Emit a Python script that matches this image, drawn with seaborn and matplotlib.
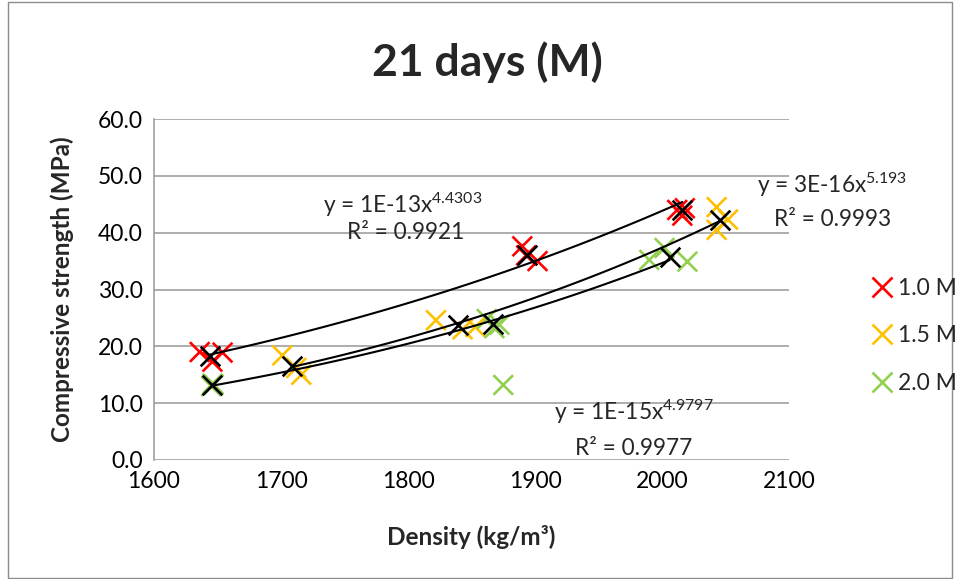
import numpy as np
import pandas as pd
import matplotlib
matplotlib.use("Agg")
import matplotlib.pyplot as plt
import seaborn as sns
from matplotlib.patches import Rectangle
from matplotlib.lines import Line2D

# ---- data ----
red_x = [1636, 1646, 1654, 1890, 1893, 1902, 2012, 2016, 2018]
red_y = [19.0, 17.3, 18.9, 37.6, 36.0, 35.0, 44.0, 43.0, 44.3]
orange_x = [1701, 1712, 1716, 1822, 1843, 1853, 2043, 2052, 2043]
orange_y = [18.4, 16.2, 15.0, 24.6, 23.0, 23.4, 44.5, 42.3, 40.5]
green_x = [1645, 1647, 1646, 1862, 1868, 1872, 1875, 1990, 2002, 2020]
green_y = [13.0, 13.3, 13.4, 24.8, 23.2, 23.8, 13.2, 35.2, 37.3, 34.9]

avg_red_x = [1644, 1894, 2016]
avg_red_y = [18.3, 36.1, 44.0]
avg_orange_x = [1709, 1839, 2046]
avg_orange_y = [16.5, 23.8, 42.3]
avg_green_x = [1646, 1867, 2006]
avg_green_y = [13.2, 24.0, 35.7]

series_labels = ["1.0 M", "1.5 M", "2.0 M"]
colors = ["#FF0000", "#FFC000", "#92D050"]
eq_texts = [r"y = 1E-13x$^{4.4303}$", r"y = 3E-16x$^{5.193}$", r"y = 1E-15x$^{4.9797}$"]
r2_texts = ["R² = 0.9921", "R² = 0.9993", "R² = 0.9977"]

sns.set_theme(style="white")
plt.rcParams['font.family'] = ['Lato', 'DejaVu Sans']
plt.rcParams['mathtext.fontset'] = 'custom'
plt.rcParams['mathtext.rm'] = 'Lato'
plt.rcParams['mathtext.it'] = 'Lato'

TICK = 16.5
EQ = 16.3

fig = plt.figure(figsize=(9.56, 5.79), dpi=100)
ax = fig.add_axes([154/956, 1-460/579, (789-154)/956, (460-119)/579])

df = pd.concat([
    pd.DataFrame({"x": red_x, "y": red_y, "s": series_labels[0]}),
    pd.DataFrame({"x": orange_x, "y": orange_y, "s": series_labels[1]}),
    pd.DataFrame({"x": green_x, "y": green_y, "s": series_labels[2]}),
])
sns.scatterplot(data=df, x="x", y="y", hue="s", palette=colors, marker="x",
                s=200, linewidth=1.9, ax=ax, legend=False, zorder=3)

avgs = [(avg_red_x, avg_red_y), (avg_orange_x, avg_orange_y), (avg_green_x, avg_green_y)]
for ax_x, ax_y in avgs:
    b, a = np.polyfit(np.log(ax_x), np.log(ax_y), 1)
    xs = np.linspace(min(ax_x), max(ax_x), 100)
    sns.lineplot(x=xs, y=np.exp(a) * xs ** b, color="black", linewidth=1.5, ax=ax, zorder=4)
    sns.scatterplot(x=ax_x, y=ax_y, color="black", marker="x", s=200, linewidth=1.9, ax=ax, zorder=5)

ax.set_xlim(1600, 2100)
ax.set_ylim(0, 60)
ax.set_xticks(np.arange(1600, 2101, 100))
ax.set_yticks(np.arange(0, 61, 10))
ax.set_yticklabels([f"{v:.1f}" for v in np.arange(0, 61, 10)])
ax.tick_params(labelsize=TICK, colors="#000000", length=0, pad=8)
ax.yaxis.grid(True, color="#A0A0A0", linewidth=1.2)
ax.xaxis.grid(False)
for sp in ["top", "right", "bottom"]:
    ax.spines[sp].set_visible(False)
ax.spines["left"].set_color("#A0A0A0")
ax.spines["left"].set_linewidth(1.2)
ax.set_axisbelow(True)

ax.set_xlabel("Density (kg/m³)", fontsize=17.5, fontweight="bold", labelpad=24)
ax.set_ylabel("Compressive strength (MPa)", fontsize=17.5, fontweight="bold", labelpad=17)

fig.text(487/956, 1-62/579, "21 days (M)", fontsize=32, fontweight="bold", ha="center", va="center")

ax.text(1796, 44.9, eq_texts[0], fontsize=EQ, ha="center", va="center")
ax.text(1798, 40.1, r2_texts[0], fontsize=EQ, ha="center", va="center")
ax.text(2134, 48.4, eq_texts[1], fontsize=EQ, ha="center", va="center", clip_on=False)
ax.text(2134, 42.4, r2_texts[1], fontsize=EQ, ha="center", va="center", clip_on=False)
ax.text(1978, 8.4, eq_texts[2], fontsize=EQ, ha="center", va="center")
ax.text(1978, 2.1, r2_texts[2], fontsize=EQ, ha="center", va="center")

handles = [Line2D([], [], color=c, marker="x", linestyle="none", markersize=14, markeredgewidth=1.9)
           for c in colors]
fig.legend(handles, series_labels, loc="center left", bbox_to_anchor=(848/956, 1-336/579),
           frameon=False, fontsize=TICK, labelspacing=1.15, handletextpad=0.1, handlelength=1.2)

fig.patches.append(Rectangle((8/956, 1/579), (952-8)/956, (577-1)/579, transform=fig.transFigure,
                             fill=False, edgecolor="#8C8C8C", linewidth=1))

fig.savefig("out.png", dpi=100)
